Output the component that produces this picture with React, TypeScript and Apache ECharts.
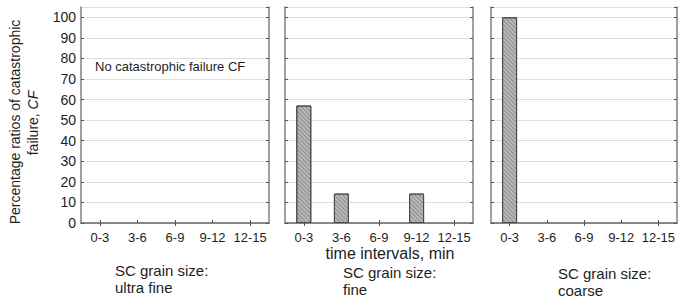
import React, { useEffect, useRef } from "react";
import * as echarts from "echarts";

const categories = ["0-3", "3-6", "6-9", "9-12", "12-15"];
const ultraFine = [0, 0, 0, 0, 0];
const fine = [57.1, 14.3, 0, 14.3, 0];
const coarse = [100, 0, 0, 0, 0];
const panelSeries = [ultraFine, fine, coarse];
const panelTitles = [["SC grain size:", "ultra fine"], ["SC grain size:", "fine"], ["SC grain size:", "coarse"]];
const yTicks = [0, 10, 20, 30, 40, 50, 60, 70, 80, 90, 100];

const grids = [
  { left: 81, width: 188 },
  { left: 285, width: 188 },
  { left: 491, width: 186 },
];
const TOP = 7;
const BOTTOM_Y = 223;
const FONT = "Liberation Sans, Arial, sans-serif";
const TXT = "#1e1e1e";

export default function App() {
  const ref = useRef<HTMLDivElement>(null);
  useEffect(() => {
    if (!ref.current) return;
    const chart = echarts.init(ref.current, undefined, { renderer: "svg" });
    const lineStyle = { color: "#808080", width: 1.5 };
    const option: any = {
      animation: false,
      backgroundColor: "#ffffff",
      textStyle: { fontFamily: FONT },
      grid: grids.map((g) => ({
        left: g.left,
        width: g.width,
        top: TOP,
        height: BOTTOM_Y - TOP,
        containLabel: false,
      })),
      xAxis: [
        ...grids.map((_, i) => ({
          type: "category",
          gridIndex: i,
          data: categories,
          position: "bottom",
          axisLine: { show: true, lineStyle },
          axisTick: { show: true, inside: true, alignWithLabel: true, length: 3, lineStyle: { color: "#555" } },
          axisLabel: { color: TXT, fontSize: 13, margin: 8, fontFamily: FONT, interval: 0 },
        })),
        ...grids.map((_, i) => ({
          type: "category",
          gridIndex: i,
          data: categories,
          position: "top",
          axisLine: { show: true, lineStyle },
          axisTick: { show: true, inside: true, alignWithLabel: true, length: 3, lineStyle: { color: "#555" } },
          axisLabel: { show: false },
        })),
      ],
      yAxis: [
        ...grids.map((_, i) => ({
          type: "value",
          gridIndex: i,
          min: 0,
          max: 105,
          interval: 10,
          position: "left",
          axisLine: { show: true, lineStyle },
          axisTick: { show: true, inside: true, length: 3, lineStyle: { color: "#555" } },
          splitLine: { show: true, lineStyle: { color: "#dedede", width: 1 } },
          axisLabel: {
            show: i === 0,
            color: TXT,
            fontSize: 14,
            margin: 5,
            fontFamily: FONT,
            showMaxLabel: false,
            formatter: (v: number) => (yTicks.includes(v) ? String(v) : ""),
          },
        })),
        ...grids.map((_, i) => ({
          type: "value",
          gridIndex: i,
          min: 0,
          max: 105,
          interval: 10,
          position: "right",
          axisLine: { show: true, lineStyle },
          axisTick: { show: true, inside: true, length: 3, lineStyle: { color: "#555" } },
          splitLine: { show: false },
          axisLabel: { show: false },
        })),
      ],
      series: panelSeries.map((d, i) => ({
        type: "bar",
        xAxisIndex: i,
        yAxisIndex: i,
        data: d.map((v) => (v === 0 ? { value: v, itemStyle: { borderWidth: 0, opacity: 0 } } : v)),
        barWidth: 15,
        itemStyle: {
          color: "#b8b8b8",
          borderColor: "#4a4a4a",
          borderWidth: 1,
          decal: {
            symbol: "rect",
            symbolSize: 1,
            dashArrayX: [1, 0],
            dashArrayY: [1, 1.5],
            rotation: Math.PI / 4,
            color: "rgba(90,90,90,0.45)",
          },
        },
      })),
      graphic: [
        {
          type: "text",
          x: 15,
          y: 122,
          rotation: Math.PI / 2,
          style: {
            text: "Percentage ratios of catastrophic",
            fontSize: 14,
            fontFamily: FONT,
            fill: TXT,
            align: "center",
            verticalAlign: "middle",
          },
        },
        {
          type: "text",
          x: 33,
          y: 123,
          rotation: Math.PI / 2,
          style: {
            text: "failure, {i|CF}",
            rich: { i: { fontStyle: "italic", fontSize: 14, fontFamily: FONT, fill: TXT } },
            fontSize: 14,
            fontFamily: FONT,
            fill: TXT,
            align: "center",
            verticalAlign: "middle",
          },
        },
        {
          type: "text",
          x: 95,
          y: 66,
          style: {
            text: "No catastrophic failure CF",
            fontSize: 13,
            fontFamily: FONT,
            fill: TXT,
            align: "left",
            verticalAlign: "middle",
          },
        },
        {
          type: "text",
          x: 390,
          y: 253,
          style: {
            text: "time intervals, min",
            fontSize: 16,
            fontFamily: FONT,
            fill: TXT,
            align: "center",
            verticalAlign: "middle",
          },
        },
        ...[
          { x: 115, y1: 270, y2: 287 },
          { x: 343, y1: 272, y2: 289 },
          { x: 558, y1: 273, y2: 290 },
        ].flatMap((p, i) => [
          {
            type: "text",
            x: p.x,
            y: p.y1,
            style: { text: panelTitles[i][0], fontSize: 15, fontFamily: FONT, fill: TXT, align: "left", verticalAlign: "middle" },
          },
          {
            type: "text",
            x: p.x,
            y: p.y2,
            style: { text: panelTitles[i][1], fontSize: 15, fontFamily: FONT, fill: TXT, align: "left", verticalAlign: "middle" },
          },
        ]),
      ],
    };
    chart.setOption(option);
    return () => chart.dispose();
  }, []);
  return (
    <div
      ref={ref}
      style={{ position: "fixed", left: 0, top: 0, width: 678, height: 299, background: "#fff" }}
    />
  );
}
